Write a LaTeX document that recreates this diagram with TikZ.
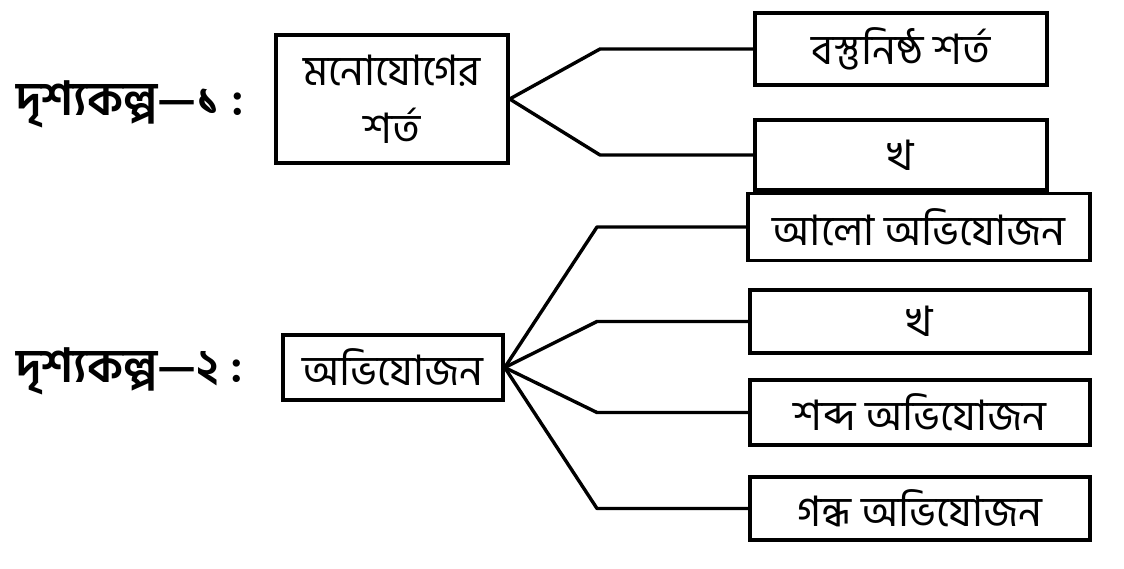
\documentclass[tikz,border=0pt]{standalone}
\usepackage{fontspec}
\newfontfamily\bn[Script=Bengali]{Hind Siliguri}
\usepackage{tikz}
\usetikzlibrary{calc}
\tikzset{
	optbox/.style={draw, line width=3.4pt, inner sep=2pt, align=center, font=\bn\fontsize{42}{58}\selectfont},
	scenelabel/.style={anchor=west, inner sep=0pt, font=\bn\bfseries\fontsize{47}{50}\selectfont},
	branch/.style={line width=3.4pt, line join=round}
}

\begin{document}
\begin{tikzpicture}[x=1pt, y=-1pt]
			%%%%% START %%%%%
			\useasboundingbox (0, 0) rectangle (1124, 568);
			
			\node[scenelabel] (scene1) at (16, 104) {দৃশ্যকল্প—১ :};
			\node[scenelabel] (scene2) at (16, 371) {দৃশ্যকল্প—২ :};
			
			\node[optbox, minimum width=232pt, minimum height=128pt] (cond) at (392, 99) {মনোযোগের\\শর্ত};
			\node[optbox, minimum width=220pt, minimum height=65pt] (adapt) at (393, 367.5) {অভিযোজন};
			
			\node[optbox, minimum width=292pt, minimum height=72pt] (objcond) at (901, 49) {বস্তুনিষ্ঠ শর্ত};
			\node[optbox, minimum width=292pt, minimum height=70pt] (khaA) at (901, 155) {খ};
			
			\node[optbox, minimum width=342pt, minimum height=67pt] (light) at (919, 227) {আলো অভিযোজন};
			\node[optbox, minimum width=340pt, minimum height=63pt] (khaB) at (920, 321.5) {খ};
			\node[optbox, minimum width=340pt, minimum height=65pt] (sound) at (920, 412.5) {শব্দ অভিযোজন};
			\node[optbox, minimum width=340pt, minimum height=63pt] (smell) at (920, 508.5) {গন্ধ অভিযোজন};
			
			\coordinate (fork1) at (600, 0);
			\coordinate (fork2) at (597, 0);
			
			\draw[branch] (cond.east) -- (fork1 |- objcond.west) -- (objcond.west);
			\draw[branch] (cond.east) -- (fork1 |- khaA.west) -- (khaA.west);
			
			\draw[branch] (adapt.east) -- (fork2 |- light.west) -- (light.west);
			\draw[branch] (adapt.east) -- (fork2 |- khaB.west) -- (khaB.west);
			\draw[branch] (adapt.east) -- (fork2 |- sound.west) -- (sound.west);
			\draw[branch] (adapt.east) -- (fork2 |- smell.west) -- (smell.west);
			%%%%% END %%%%%
\end{tikzpicture}
\end{document}
